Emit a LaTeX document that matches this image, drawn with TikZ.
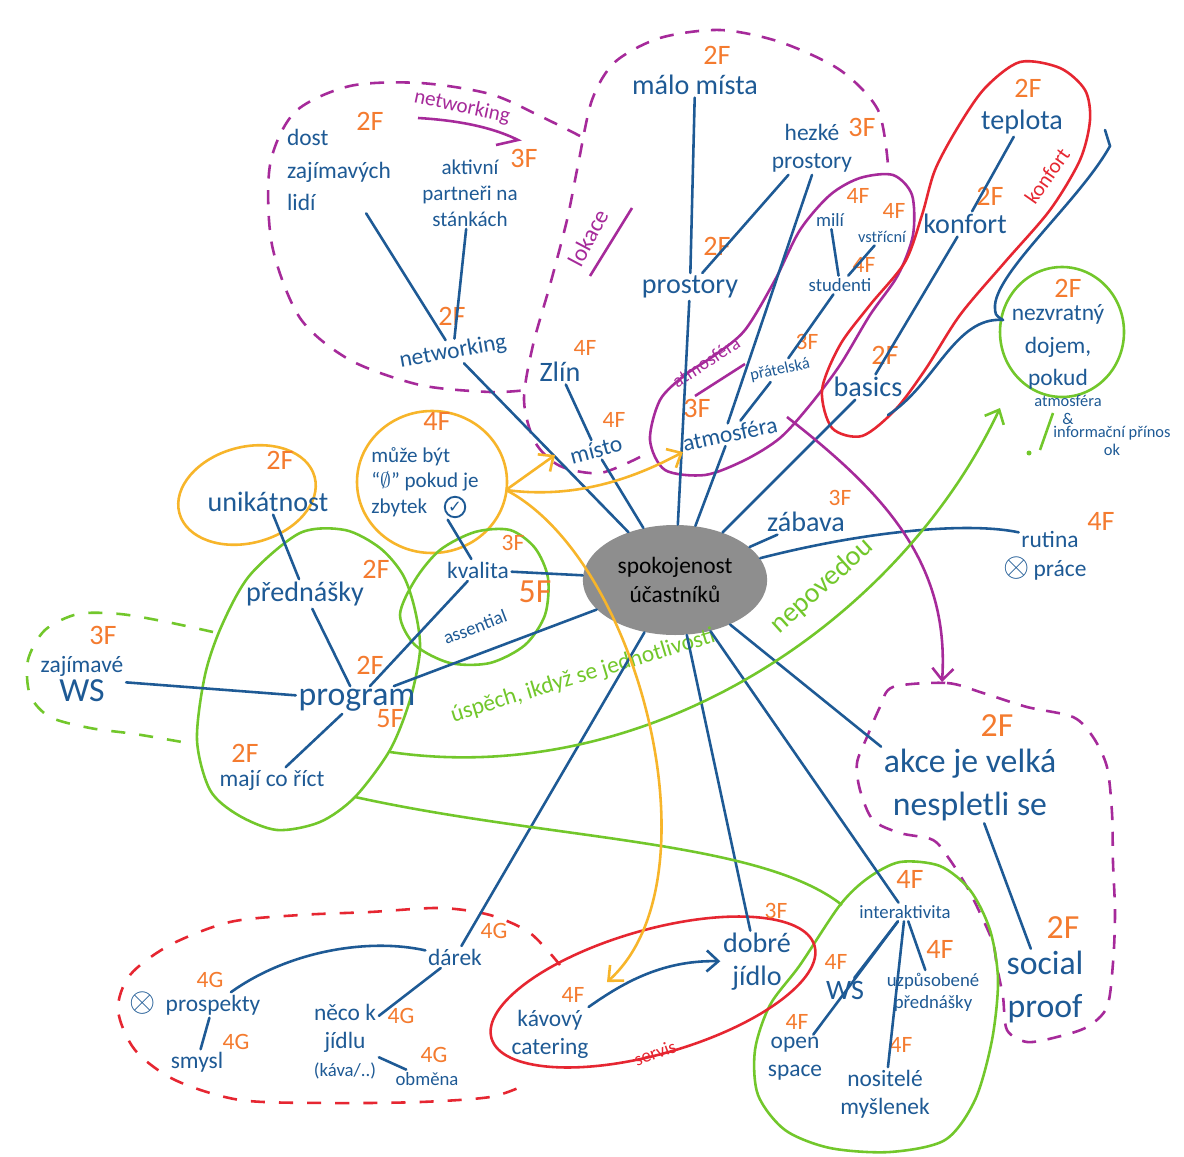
\documentclass[tikz,border=0pt]{standalone}
\usepackage{fontspec}
\setmainfont{Carlito}
\newfontfamily\symbfont{DejaVu Sans}
\usetikzlibrary{arrows.meta,shapes.geometric}
\definecolor{ink}{HTML}{1E5A95}
\definecolor{tagor}{HTML}{F47B2F}
\definecolor{mag}{HTML}{A62A9A}
\definecolor{rdc}{HTML}{E62631}
\definecolor{grn}{HTML}{72C72B}
\definecolor{yel}{HTML}{F7B52A}
\definecolor{blobgray}{HTML}{8E8E8E}
\tikzset{
  lbl/.style={text=ink, align=center, inner sep=1pt, font=\normalsize},
  tg/.style={text=tagor, inner sep=0pt, font=\large},
  ln/.style={draw=ink, line width=1.1pt, line cap=round},
  mgline/.style={draw=mag, line width=1.1pt},
  mgdash/.style={draw=mag, line width=1.1pt, dash pattern=on 6pt off 5pt},
  rdline/.style={draw=rdc, line width=1.1pt},
  rddash/.style={draw=rdc, line width=1.1pt, dash pattern=on 6pt off 6pt},
  grline/.style={draw=grn, line width=1.1pt},
  grdash/.style={draw=grn, line width=1.1pt, dash pattern=on 6pt off 6pt},
  ylline/.style={draw=yel, line width=1.1pt},
  tip/.style={-{Straight Barb[length=5pt,width=9pt]}}
}
\begin{document}
\begin{tikzpicture}[x=0.015cm,y=-0.015cm]
  \useasboundingbox (0,0) rectangle (1184,1157);
  \fill[white] (0,0) rectangle (1184,1157);

  \draw[mgdash] plot[smooth] coordinates {(580,136) (540,116) (490,94) (420,83) (350,86) (295,112) (270,165) (272,245) (300,318) (350,360) (420,385) (490,392) (527,390)};
  \draw[mgdash] plot[smooth] coordinates {(640,457) (600,473) (560,466) (535,442) (524,400) (533,345) (550,285) (567,220) (578,165) (592,100) (615,62) (660,38) (720,30) (780,42) (840,70) (878,110) (888,165)};
  \draw[mgline] plot[smooth cycle] coordinates {(650,440) (660,400) (685,375) (715,355) (745,330) (775,280) (800,230) (830,195) (860,178) (893,175) (912,195) (913,235) (898,275) (870,315) (840,365) (810,405) (780,438) (745,460) (705,475) (665,470)};
  \draw[rdline] plot[smooth cycle] coordinates {(1020,62) (985,88) (958,127) (935,170) (922,215) (905,262) (870,305) (840,345) (822,390) (832,428) (862,436) (895,410) (925,370) (960,315) (1005,262) (1050,210) (1080,160) (1090,120) (1085,90) (1060,68)};
  \draw[grline] (1062,332) ellipse (62 and 65);
  \draw[ylline, rotate around={15:(247,495)}] (247,495) ellipse (70 and 48);
  \draw[ylline] (432,482) ellipse (75 and 71);
  \draw[grline] plot[smooth cycle] coordinates {(300,533) (345,530) (380,548) (403,575) (415,610) (420,650) (410,700) (390,750) (355,797) (320,822) (277,830) (238,815) (210,790) (197,740) (205,675) (222,625) (250,575)};
  \draw[grline] plot[smooth cycle] coordinates {(415,580) (440,550) (475,532) (510,530) (535,548) (548,578) (545,615) (525,645) (490,663) (450,663) (415,645) (400,615)};
  \draw[grdash] plot[smooth] coordinates {(213,632) (167,622) (120,614) (78,614) (45,630) (28,660) (30,695) (50,717) (90,728) (135,734) (182,742)};
  \draw[mgdash] plot[smooth cycle] coordinates {(893,687) (947,683) (983,693) (1027,707) (1073,717) (1093,737) (1107,767) (1112,813) (1113,863) (1115,913) (1113,963) (1107,1007) (1087,1027) (1057,1037) (1027,1042) (1007,1030) (1003,997) (997,967) (993,943) (980,913) (967,887) (950,860) (933,840) (900,833) (873,820) (860,790) (857,763) (867,737) (880,707)};
  \draw[grline] plot[smooth cycle] coordinates {(840,905) (868,878) (900,862) (940,866) (970,890) (990,930) (998,980) (992,1040) (975,1100) (945,1140) (890,1152) (830,1148) (785,1130) (758,1095) (755,1050) (770,1005) (800,965)};
  \draw[rdline, rotate around={16:(653,992)}] (653,992) ellipse (168 and 62);
  \draw[rddash] plot[smooth] coordinates {(560,965) (530,933) (490,915) (440,908) (370,912) (300,915) (230,922) (170,945) (130,975) (118,1010) (135,1050) (175,1080) (240,1100) (330,1103) (420,1102) (490,1097) (525,1085)};

  \node[ellipse, fill=blobgray, minimum width=2.25cm, minimum height=1.65cm, align=center, font=\normalsize] (C) at (675,580) {spokojenost\\účastníků};

  \node[lbl, align=left, font=\linespread{1.15}\normalsize] (N1) at (339,170) {dost\\zajímavých\\lidí};
  \node[lbl, font=\small] (N2) at (470,193) {aktivní\\partneři na\\stánkách};
  \node[lbl, rotate=10] (N) at (453,352) {networking};
  \node[lbl, font=\large] (L1) at (560,372) {Zlín};
  \node[lbl, rotate=15] (L) at (596,450) {místo};
  \node[lbl, font=\large] (P1) at (695,85) {málo místa};
  \node[lbl] (P2) at (812,148) {hezké\\prostory};
  \node[lbl, font=\large] (P) at (690,287) {prostory};
  \node[lbl, font=\footnotesize] (A3) at (830,220) {milí};
  \node[lbl, font=\scriptsize] (A4) at (882,237) {vstřícní};
  \node[lbl, font=\footnotesize] (A2) at (840,285) {studenti};
  \node[lbl, font=\scriptsize, rotate=12] (A1) at (780,370) {přátelská};
  \node[lbl, rotate=12] (A) at (730,434) {atmosféra};
  \node[lbl, font=\large] (K2) at (1022,122) {teplota};
  \node[lbl, font=\large] (K1) at (965,224) {konfort};
  \node[lbl, font=\large] (K) at (868,387) {basics};
  \node[lbl, font=\linespread{1.15}\normalsize] (D) at (1058,347) {nezvratný\\dojem,\\pokud};
  \node[lbl, font=\scriptsize] (D1) at (1068,410) {atmosféra\\\&};
  \node[lbl, font=\scriptsize] (D2) at (1112,441) {informační přínos\\ok};
  \node[lbl, font=\large] (Z) at (806,522) {zábava};
  \node[lbl] (R) at (1050,539) {rutina};
  \node[lbl] (R1) at (1045,569) {{\Large$\otimes$}\,práce};
  \node[lbl, font=\Large] (V) at (970,785) {akce je velká\\nespletli se};
  \node[lbl, font=\Large] (V1) at (1045,987) {social\\proof};
  \node[lbl, font=\footnotesize] (I) at (905,912) {interaktivita};
  \node[lbl, font=\large] (I1) at (845,990) {WS};
  \node[lbl, font=\footnotesize] (I2) at (933,992) {uzpůsobené\\přednášky};
  \node[lbl] (I3) at (795,1059) {open\\space};
  \node[lbl] (I4) at (885,1094) {nositelé\\myšlenek};
  \node[lbl, font=\large] (J) at (757,962) {dobré\\jídlo};
  \node[lbl] (J1) at (550,1034) {kávový\\catering};
  \node[lbl] (G) at (455,957) {dárek};
  \node[lbl, font=\Large] (G1x) at (143,1003) {$\otimes$};
  \node[lbl] (G1) at (213,1005) {prospekty};
  \node[lbl] (G2) at (197,1062) {smysl};
  \node[lbl] (G3) at (345,1042) {něco k\\jídlu\\{\footnotesize(káva/..)}};
  \node[lbl, font=\footnotesize] (G4) at (427,1079) {obměna};
  \node[lbl, font=\large] (PR2) at (268,502) {unikátnost};
  \node[lbl, align=left, font=\small] (Q1) at (425,482) {může být\\“$\emptyset$” pokud je\\zbytek};
  \node[circle, draw=ink, line width=0.8pt, inner sep=0.5pt, text=ink, font=\symbfont\scriptsize] (Q1c) at (455,507) {✓};
  \node[lbl, font=\large] (PR1) at (305,594) {přednášky};
  \node[lbl, font=\Large] (PR) at (357,700) {program};
  \node[lbl] (PR3) at (272,780) {mají co říct};
  \node[lbl] (PR4) at (82,679) {zajímavé\\{\Large WS}};
  \node[lbl] (Q) at (478,570) {kvalita};
  \node[lbl, font=\footnotesize, rotate=21] (Q2) at (475,627) {assential};

  \node[tg] (N1t) at (370,121) {2F};
  \node[tg] (N2t) at (524,158) {3F};
  \node[tg] (Nt) at (452,316) {2F};
  \node[tg, font=\normalsize] (L1t) at (585,348) {4F};
  \node[tg, font=\normalsize] (Lt) at (614,420) {4F};
  \node[tg] (P1t) at (717,55) {2F};
  \node[tg] (P2t) at (862,127) {3F};
  \node[tg] (Pt) at (717,246) {2F};
  \node[tg, font=\normalsize] (A3t) at (858,196) {4F};
  \node[tg, font=\normalsize] (A4t) at (894,211) {4F};
  \node[tg, font=\normalsize] (A2t) at (864,265) {4F};
  \node[tg, font=\normalsize] (A1t) at (807,342) {3F};
  \node[tg] (At) at (697,408) {3F};
  \node[tg] (K2t) at (1028,88) {2F};
  \node[tg] (K1t) at (990,196) {2F};
  \node[tg] (Kt) at (885,355) {2F};
  \node[tg] (Dt) at (1068,288) {2F};
  \node[tg, font=\normalsize] (Zt) at (840,498) {3F};
  \node[tg] (Rt) at (1101,521) {4F};
  \node[tg, font=\Large] (Vt) at (997,726) {2F};
  \node[tg, font=\Large] (V1t) at (1063,928) {2F};
  \node[tg] (It) at (910,879) {4F};
  \node[tg, font=\normalsize] (I1t) at (836,962) {4F};
  \node[tg] (I2t) at (940,949) {4F};
  \node[tg, font=\normalsize] (I3t) at (797,1022) {4F};
  \node[tg, font=\normalsize] (I4t) at (901,1045) {4F};
  \node[tg, font=\normalsize] (Jt) at (776,911) {3F};
  \node[tg, font=\normalsize] (J1t) at (573,995) {4F};
  \node[tg, font=\normalsize] (Gt) at (494,931) {4G};
  \node[tg, font=\normalsize] (G1t) at (210,980) {4G};
  \node[tg, font=\normalsize] (G2t) at (236,1042) {4G};
  \node[tg, font=\normalsize] (G3t) at (401,1016) {4G};
  \node[tg, font=\normalsize] (G4t) at (434,1055) {4G};
  \node[tg] (PR2t) at (280,460) {2F};
  \node[tg] (Q1t) at (437,421) {4F};
  \node[tg] (PR1t) at (376,569) {2F};
  \node[tg] (PRt) at (370,665) {2F};
  \node[tg] (PRt2) at (390,719) {5F};
  \node[tg] (PR3t) at (245,753) {2F};
  \node[tg] (PR4t) at (103,635) {3F};
  \node[tg, font=\normalsize] (Qt) at (513,543) {3F};
  \node[tg, font=\Large] (Q2t) at (535,592) {5F};

  \node[text=mag, font=\small, rotate=-12, inner sep=0pt] (M1) at (462,107) {networking};
  \node[text=mag, rotate=62, inner sep=0pt] (M2) at (588,238) {lokace};
  \node[text=mag, font=\footnotesize, rotate=33, inner sep=0pt] (M3) at (706,362) {atmosféra};
  \node[text=rdc, font=\small, rotate=55, inner sep=0pt] (M4) at (1047,176) {konfort};
  \node[text=rdc, font=\footnotesize, rotate=20, inner sep=0pt] (M5) at (655,1053) {servis};
  \node[text=grn, rotate=17, inner sep=0pt] (E1) at (583,676) {úspěch, ikdyž se jednotlivosti};
  \node[text=grn, font=\large, rotate=42, inner sep=0pt] (E2) at (822,586) {nepovedou};

  \draw[mgline] (418,118) .. controls (470,121) and (500,131) .. (518,140) -- (496,145);
  \draw[mgline] (590,276) -- (632,208);
  \draw[mgline] (695,396) -- (745,364);

  \draw[ln] (N1) -- (N);
  \draw[ln] (N2) -- (N);
  \draw[ln] (N) -- (C);
  \draw[ln] (L1) -- (L);
  \draw[ln] (L) -- (C);
  \draw[ln] (P1) -- (P);
  \draw[ln] (P2) -- (P);
  \draw[ln] (P) -- (C);
  \draw[ln] (P2.south) -- (A.north);
  \draw[ln] (A3) -- (A2);
  \draw[ln] (A4) -- (A2);
  \draw[ln] (A2) -- (A1);
  \draw[ln] (A1) -- (A);
  \draw[ln] (A) -- (C);
  \draw[ln] (K2) -- (K1);
  \draw[ln] (K1) -- (K);
  \draw[ln] (K) -- (C);
  \draw[ln] (Z) -- (C);
  \draw[ln] (C) .. controls (870,530) and (970,522) .. (R);
  \draw[ln] (C) -- (V.north west);
  \draw[ln] (C) -- (I);
  \draw[ln] (V) -- (V1);
  \draw[ln] (I) -- (I1);
  \draw[ln] (I) -- (I2);
  \draw[ln] (I) -- (I3);
  \draw[ln] (I) -- (I4);
  \draw[ln] (C) -- (J);
  \draw[ln] (C) -- (G);
  \draw[ln] (G) .. controls (370,938) and (290,950) .. (G1);
  \draw[ln] (G) -- (G3);
  \draw[ln] (G1) -- (G2);
  \draw[ln] (G3) -- (G4);
  \draw[ln, tip] (J1) .. controls (620,985) and (660,960) .. (J);
  \draw[ln] (PR2) -- (PR1);
  \draw[ln] (PR1) -- (PR);
  \draw[ln] (PR) -- (PR4);
  \draw[ln] (PR) -- (PR3);
  \draw[ln] (PR) -- (Q);
  \draw[ln] (PR) -- (C);
  \draw[ln] (Q) -- (C);
  \draw[ln] (Q1) -- (Q);

  \coordinate (B0) at (1105,130);
  \coordinate (B1) at (1003,320);
  \coordinate (B2) at (888,415);
  \draw[ln] (B0) -- (1110,146) .. controls (1080,200) and (998,270) .. (995,305) .. controls (995,315) .. (B1);
  \draw[ln] (B1) .. controls (955,316) and (935,385) .. (B2);

  \coordinate (M6) at (787,417);
  \coordinate (M7) at (942,682);
  \draw[mgline, tip] (M6) .. controls (880,490) and (950,560) .. (M7);

  \coordinate (E3) at (390,752);
  \coordinate (E4) at (1000,408);
  \draw[grline, tip] (E3) .. controls (650,790) and (900,620) .. (E4);
  \coordinate (F0) at (355,797);
  \coordinate (F1) at (842,905);
  \draw[grline] (F0) .. controls (550,840) and (760,840) .. (F1);
  \draw[grline] (1053,413) -- (1040,450);
  \fill[grn] (1029,453) circle (2.5);

  \coordinate (Y0) at (506,490);
  \coordinate (Y1) at (555,455);
  \coordinate (Y2) at (683,452);
  \coordinate (Y3) at (607,982);
  \draw[ylline, tip] (Y0) -- (Y1);
  \draw[ylline, tip] (Y0) .. controls (580,500) and (640,475) .. (Y2);
  \draw[ylline, tip] (Y0) .. controls (640,560) and (720,880) .. (Y3);
\end{tikzpicture}
\end{document}
